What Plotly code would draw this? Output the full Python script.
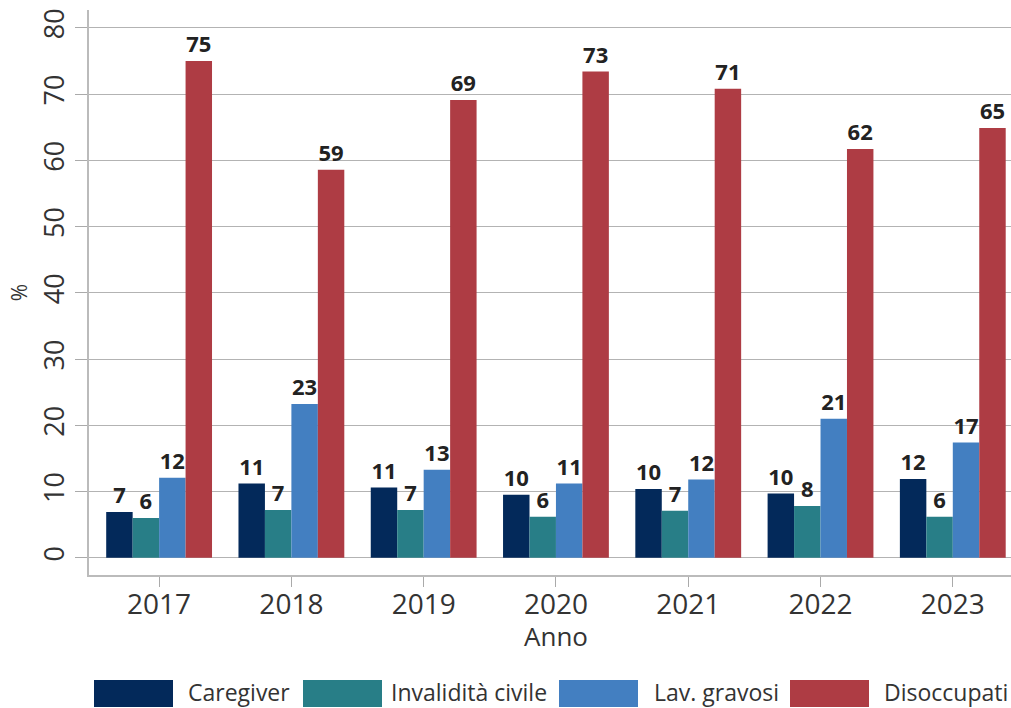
import plotly.graph_objects as go

years = ["2017", "2018", "2019", "2020", "2021", "2022", "2023"]
caregiver = [6.9, 11.2, 10.6, 9.5, 10.4, 9.7, 11.9]
invalidita = [6.0, 7.2, 7.2, 6.2, 7.1, 7.8, 6.2]
lav_gravosi = [12.1, 23.2, 13.3, 11.2, 11.8, 21.0, 17.4]
disoccupati = [75.0, 58.6, 69.1, 73.4, 70.8, 61.7, 64.9]

series = [
    ("Caregiver", caregiver, "#03295a"),
    ("Invalidità civile", invalidita, "#287e87"),
    ("Lav. gravosi", lav_gravosi, "#437fc1"),
    ("Disoccupati", disoccupati, "#ae3c44"),
]

FONT = "Open Sans"
W, H = 1011, 708
ML, MR, MT, MB = 89, 0, 10, 133
PW, PH = W - ML - MR, H - MT - MB

fig = go.Figure()
for name, vals, col in series:
    fig.add_trace(go.Bar(
        x=years, y=vals, name=name, marker=dict(color=col, line=dict(width=0)),
        texttemplate="%{y:.0f}", textposition="outside", cliponaxis=False,
        textfont=dict(family=FONT, size=22, color="#222222", weight="bold"),
        showlegend=False,
    ))

def px_x(x):
    return (x - ML) / PW

def px_y(y):
    return (H - MB - y) / PH

shapes = []
annotations = []
legend_boxes = [(94, 173, 186), (303, 382, 389), (559, 638, 652), (790, 869, 882)]
for (name, vals, col), (x0, x1, tx) in zip(series, legend_boxes):
    shapes.append(dict(type="rect", xref="paper", yref="paper",
                       x0=px_x(x0), x1=px_x(x1), y0=px_y(707), y1=px_y(680),
                       fillcolor=col, line=dict(width=0)))
    annotations.append(dict(text=name, xref="paper", yref="paper",
                            x=px_x(tx), y=px_y(692), xanchor="left", yanchor="middle",
                            showarrow=False, font=dict(family=FONT, size=23, color="#333333")))

annotations.append(dict(text="Anno", xref="paper", yref="paper",
                        x=px_x(556), y=px_y(636), xanchor="center", yanchor="middle",
                        showarrow=False, font=dict(family=FONT, size=26, color="#333333")))

fig.update_layout(
    width=W, height=H,
    margin=dict(l=ML, r=MR, t=MT, b=MB, autoexpand=False),
    paper_bgcolor="white", plot_bgcolor="white",
    barmode="group", bargap=0.2, bargroupgap=0,
    font=dict(family=FONT, color="#333333"),
    shapes=shapes, annotations=annotations,
    xaxis=dict(
        range=[-0.53, 6.44], showgrid=False, automargin=False,
        showline=True, linecolor="#bbbbbb", linewidth=1.5,
        ticks="outside", ticklen=10, tickcolor="#aaaaaa", ticklabelstandoff=-6,
        tickfont=dict(family=FONT, size=28, color="#333333"),
    ),
    yaxis=dict(
        range=[-2.6, 82.7], tickvals=[0, 10, 20, 30, 40, 50, 60, 70, 80],
        tickangle=-90, showgrid=True, gridcolor="#b3b3b3", gridwidth=1,
        zeroline=False, showline=True, linecolor="#bbbbbb", linewidth=1.5,
        ticks="outside", ticklen=12, tickcolor="#aaaaaa", automargin=False,
        tickfont=dict(family=FONT, size=27, color="#333333"),
        title=dict(text="%", font=dict(family=FONT, size=21, color="#333333"), standoff=2),
    ),
)

fig.write_html("out.html", post_script="document.body.style.margin='0';",
               config={"displayModeBar": False})
